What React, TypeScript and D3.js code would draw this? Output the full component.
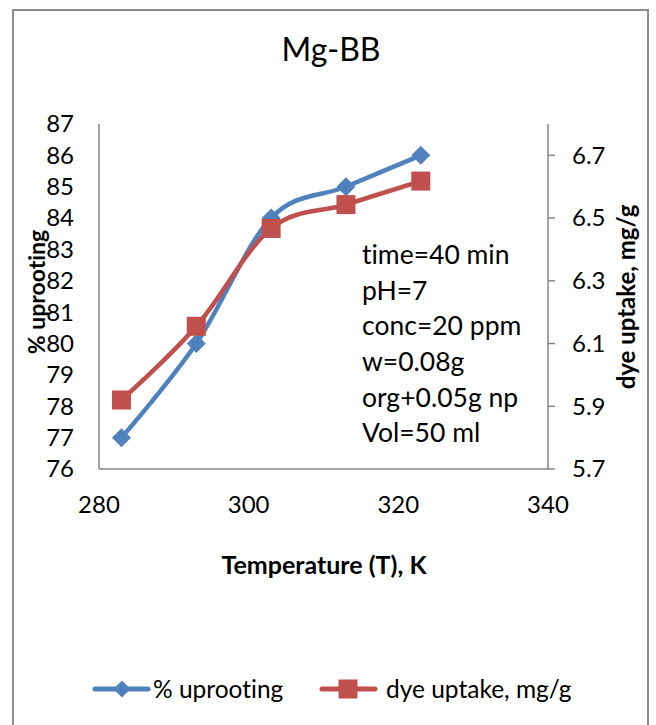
import React from "react";
import * as d3 from "d3";

// Temperatures (K) and the two measured series
const temperatures = [283, 293, 303, 313, 323];
const uprooting = [77, 80, 84, 85, 86];
const dyeUptake = [5.92, 6.155, 6.467, 6.543, 6.618];

const xTicks = [280, 300, 320, 340];
const leftTicks = [76, 77, 78, 79, 80, 81, 82, 83, 84, 85, 86, 87];
const rightTicks = [5.7, 5.9, 6.1, 6.3, 6.5, 6.7];

const conditions = [
  "time=40 min",
  "pH=7",
  "conc=20 ppm",
  "w=0.08g",
  "org+0.05g np",
  "Vol=50 ml",
];

const W = 656;
const H = 725;
const plot = { left: 99, right: 548, top: 124, bottom: 469 };
const BLUE = "#4F81BD";
const RED = "#C0504D";
const AXIS = "#868686";
const FONT = "Lato, 'Open Sans', sans-serif";

export default function App() {
  const x = d3.scaleLinear().domain([280, 340]).range([plot.left, plot.right]);
  const yL = d3.scaleLinear().domain([76, 87]).range([plot.bottom, plot.top]);
  const yR = d3.scaleLinear().domain([5.7, 6.8]).range([plot.bottom, plot.top]);

  const curve = d3.curveCardinal.tension(0);
  const lineL = d3
    .line<number>()
    .x((_, i) => x(temperatures[i]))
    .y((d) => yL(d))
    .curve(curve);
  const lineR = d3
    .line<number>()
    .x((_, i) => x(temperatures[i]))
    .y((d) => yR(d))
    .curve(curve);

  const diamond = (cx: number, cy: number, r: number) =>
    `M${cx},${cy - r}L${cx + r},${cy}L${cx},${cy + r}L${cx - r},${cy}Z`;

  const sq = 19;
  const dr = 9.5;
  const lw = 4.5;

  return (
    <svg
      width={W}
      height={H}
      style={{
        position: "absolute",
        left: 0,
        top: 0,
        background: "#fff",
        fontVariantLigatures: "none",
      }}
      fontFamily={FONT}
    >
      <rect x={0} y={0} width={W} height={H} fill="#fff" />
      {/* chart frame */}
      <rect
        x={13}
        y={10}
        width={635}
        height={740}
        fill="none"
        stroke="#8c8c8c"
        strokeWidth={2}
      />

      <text x={331} y={50} dy="0.35em" textAnchor="middle" fontSize={32} fill="#000">
        Mg-BB
      </text>

      {/* axes */}
      <line x1={plot.left} x2={plot.left} y1={plot.top} y2={plot.bottom} stroke={AXIS} strokeWidth={1.5} />
      <line x1={plot.left} x2={plot.right} y1={plot.bottom} y2={plot.bottom} stroke={AXIS} strokeWidth={1.5} />
      <line x1={plot.right} x2={plot.right} y1={plot.top} y2={plot.bottom} stroke={AXIS} strokeWidth={1.5} />

      {leftTicks.map((t) => (
        <text key={"l" + t} x={74} y={yL(t)} dy="0.35em" textAnchor="end" fontSize={24} fill="#000">
          {t}
        </text>
      ))}

      {rightTicks.map((t) => (
        <g key={"r" + t}>
          <line x1={plot.right} x2={plot.right + 7} y1={yR(t)} y2={yR(t)} stroke={AXIS} strokeWidth={1.5} />
          <text x={572} y={yR(t)} dy="0.35em" textAnchor="start" fontSize={24} fill="#000">
            {t.toFixed(1)}
          </text>
        </g>
      ))}

      {xTicks.map((t) => (
        <text key={"x" + t} x={x(t)} y={505} dy="0.35em" textAnchor="middle" fontSize={24} fill="#000">
          {t}
        </text>
      ))}

      <text x={324} y={565} dy="0.35em" textAnchor="middle" fontSize={25} fontWeight="bold" fill="#000">
        Temperature (T), K
      </text>
      <text
        transform={`translate(37,292) rotate(-90)`}
        dy="0.35em"
        textAnchor="middle"
        fontSize={23}
        fontWeight="bold"
        fill="#000"
      >
        % uprooting
      </text>
      <text
        transform={`translate(627,297) rotate(-90)`}
        dy="0.35em"
        textAnchor="middle"
        fontSize={24}
        fontWeight="bold"
        fill="#000"
      >
        dye uptake, mg/g
      </text>

      {/* series */}
      <path d={lineL(uprooting) ?? ""} fill="none" stroke={BLUE} strokeWidth={lw} strokeLinejoin="round" />
      {uprooting.map((v, i) => (
        <path key={"d" + i} d={diamond(x(temperatures[i]), yL(v), dr)} fill={BLUE} />
      ))}
      <path d={lineR(dyeUptake) ?? ""} fill="none" stroke={RED} strokeWidth={lw} strokeLinejoin="round" />
      {dyeUptake.map((v, i) => (
        <rect key={"s" + i} x={x(temperatures[i]) - sq / 2} y={yR(v) - sq / 2} width={sq} height={sq} fill={RED} />
      ))}

      {/* experimental conditions */}
      {conditions.map((c, i) => (
        <text key={c} x={362} y={255 + i * 35.6} dy="0.35em" fontSize={26.5} fill="#000">
          {c}
        </text>
      ))}

      {/* legend */}
      <line x1={95} x2={148} y1={689} y2={689} stroke={BLUE} strokeWidth={5} strokeLinecap="round" />
      <path d={diamond(122, 689, 8.5)} fill={BLUE} />
      <text x={153} y={689} dy="0.35em" fontSize={24.5} fill="#000">
        % uprooting
      </text>
      <line x1={322} x2={375} y1={689} y2={689} stroke={RED} strokeWidth={5} strokeLinecap="round" />
      <rect x={348 - sq / 2} y={689 - sq / 2} width={sq} height={sq} fill={RED} />
      <text x={386} y={689} dy="0.35em" fontSize={24.5} fill="#000">
        dye uptake, mg/g
      </text>
    </svg>
  );
}
